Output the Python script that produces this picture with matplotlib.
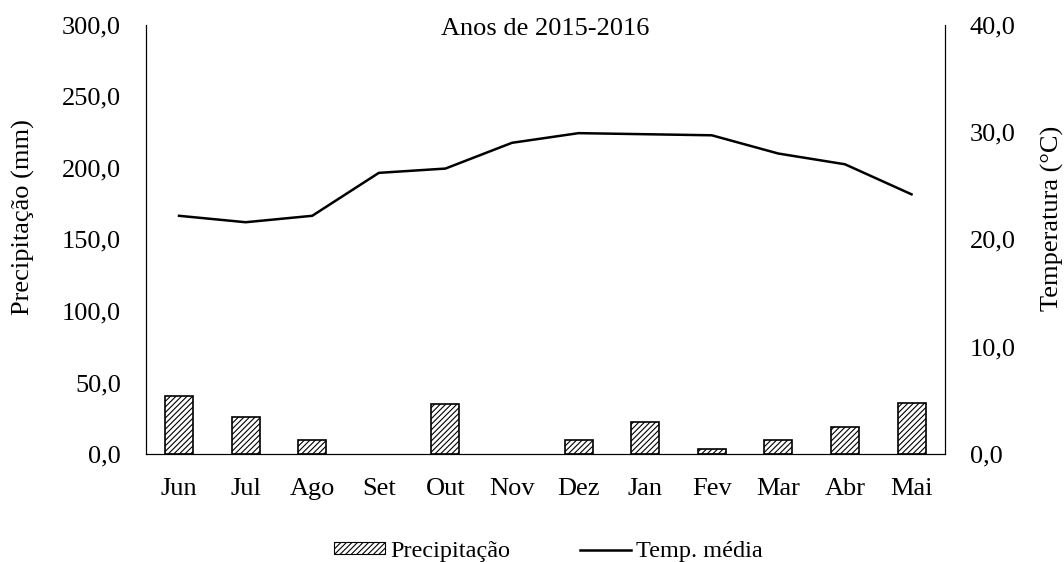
import numpy as np
import matplotlib.pyplot as plt
from matplotlib.ticker import FuncFormatter, MultipleLocator
from matplotlib.patches import Patch
from matplotlib.lines import Line2D

plt.rcParams['font.family'] = ['Liberation Serif', 'DejaVu Serif']
plt.rcParams['hatch.linewidth'] = 0.8

meses = ['Jun', 'Jul', 'Ago', 'Set', 'Out', 'Nov', 'Dez', 'Jan', 'Fev', 'Mar', 'Abr', 'Mai']
precip = [40.8, 26.1, 9.8, 0.0, 35.0, 0.0, 9.8, 22.4, 3.5, 9.8, 18.9, 35.9]
temp = [22.2, 21.6, 22.2, 26.2, 26.6, 29.0, 29.9, 29.8, 29.7, 28.0, 27.0, 24.2]

fmt = FuncFormatter(lambda v, p: f'{v:.1f}'.replace('.', ','))
fs = 19

fig = plt.figure(figsize=(10.64, 5.62), dpi=100)
ax = fig.add_axes([0.137, 0.192, 0.751, 0.764])
x = np.arange(len(meses))
p = np.array(precip)
# zero months draw no bar at all
ax.bar(x[p > 0], p[p > 0], width=0.42, color='white', edgecolor='black',
       hatch='//////', linewidth=1.2)
ax.set_xlim(-0.5, 11.5)
ax.set_ylim(0, 300)
ax.yaxis.set_major_locator(MultipleLocator(50))
ax.yaxis.set_major_formatter(fmt)
ax.set_xticks(x)
ax.set_xticklabels(meses)
ax.tick_params(length=0, labelsize=fs)
ax.tick_params(axis='x', pad=17)
ax.tick_params(axis='y', pad=18)
ax.set_ylabel('Precipitação (mm)', fontsize=fs)
ax.yaxis.set_label_coords(-0.139, 0.552)
ax.spines['top'].set_visible(False)

ax2 = ax.twinx()
ax2.plot(x, temp, color='black', linewidth=1.8)
ax2.set_ylim(0, 40)
ax2.yaxis.set_major_locator(MultipleLocator(10))
ax2.yaxis.set_major_formatter(fmt)
ax2.tick_params(length=0, labelsize=fs, pad=18)
ax2.set_ylabel('Temperatura (°C)', fontsize=fs)
ax2.yaxis.set_label_coords(1.12, 0.548)
ax2.spines['top'].set_visible(False)

ax.text(0.5, 0.99, 'Anos de 2015-2016', transform=ax.transAxes, ha='center', va='center', fontsize=fs)

handles = [Patch(facecolor='white', edgecolor='black', hatch='//////', linewidth=0.8),
           Line2D([0], [0], color='black', linewidth=1.8)]
fig.legend(handles, ['Precipitação', 'Temp. média'], loc='center', bbox_to_anchor=(0.5155, 0.019),
           ncol=2, frameon=False, fontsize=17.5, borderpad=0,
           handlelength=2.1, handleheight=0.35, handletextpad=0.2, columnspacing=2.9)

fig.savefig('out.png', dpi=100)
